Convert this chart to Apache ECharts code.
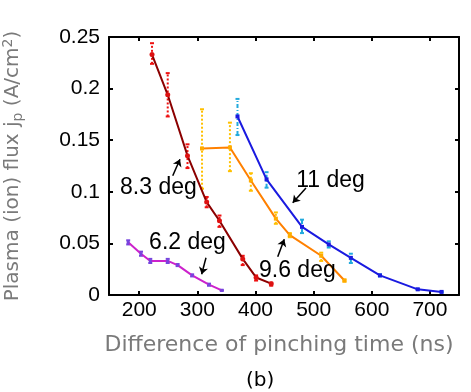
<!DOCTYPE html>
<html><head><meta charset="utf-8">
<script src="https://cdn.jsdelivr.net/npm/echarts@6/dist/echarts.min.js"></script>
<style>html,body{margin:0;padding:0;background:#fff}#c{width:471px;height:392px}</style>
</head><body><div id="c"></div>
<script>
// Data
const xTicks = [200, 300, 400, 500, 600, 700];
const deg83X = [222, 249, 283, 316, 338, 378, 401, 427];
const deg83Y = [0.233, 0.194, 0.135, 0.090, 0.072, 0.035, 0.017, 0.011];
const deg83Lo = [0.224, 0.173, 0.123, 0.085, 0.066, 0.029, 0.014, 0.009];
const deg83Hi = [0.244, 0.215, 0.146, 0.095, 0.077, 0.038, 0.019, 0.012];

const deg96X = [308, 356, 392, 435, 459, 513, 553];
const deg96Y = [0.142, 0.143, 0.111, 0.074, 0.058, 0.038, 0.014];
const deg96Lo = [0.103, 0.120, 0.101, 0.069, 0.056, 0.033, 0.013];
const deg96Hi = [0.180, 0.167, 0.118, 0.080, 0.060, 0.041, 0.015];

const deg11X = [369, 419, 480, 526, 564, 614, 679, 720];
const deg11Y = [0.173, 0.112, 0.066, 0.049, 0.036, 0.019, 0.0055, 0.003];
const deg11Lo = [0.155, 0.104, 0.060, 0.046, 0.031, 0.018, 0.005, 0.0025];
const deg11Hi = [0.190, 0.119, 0.073, 0.052, 0.040, 0.020, 0.006, 0.0035];

const deg62X = [181, 203, 219, 249, 266, 291, 320, 342];
const deg62Y = [0.051, 0.040, 0.033, 0.033, 0.029, 0.019, 0.010, 0.0045];
const deg62Lo = [0.049, 0.038, 0.031, 0.031, 0.028, 0.018, 0.009, 0.004];
const deg62Hi = [0.053, 0.042, 0.035, 0.035, 0.030, 0.020, 0.011, 0.005];

const labels = ['8.3 deg', '6.2 deg', '11 deg', '9.6 deg'];
const labelPos = [[233, 0.1037], [283, 0.0504], [529, 0.1105], [472, 0.0233]];
const arrows = [
  [[257.6, 0.1156], [270.1, 0.1315]],
  [[314.8, 0.0361], [307.4, 0.0201]],
  [[486.8, 0.1037], [464, 0.0894]],
  [[438.2, 0.0371], [449.5, 0.054]]
];

const FONT = 'Liberation Sans, Arial, Helvetica, sans-serif';
const WFONT = 'DejaVu Sans, sans-serif';
const GRAY = '#7a7a7a';

function zip(a, b) { return a.map((v, i) => [v, b[i]]); }
function errData(x, lo, hi) { return x.map((v, i) => [v, lo[i], hi[i]]); }

function errSeries(x, lo, hi, color, dash) {
  return {
    type: 'custom', z: 1,
    data: errData(x, lo, hi),
    renderItem: function (params, api) {
      const p1 = api.coord([api.value(0), api.value(1)]);
      const p2 = api.coord([api.value(0), api.value(2)]);
      const w = 2;
      const st = { stroke: color, lineWidth: 2, lineDash: dash };
      const st2 = { stroke: color, lineWidth: 2 };
      return {
        type: 'group', children: [
          { type: 'line', shape: { x1: p1[0], y1: p1[1], x2: p2[0], y2: p2[1] }, style: st },
          { type: 'line', shape: { x1: p1[0] - w, y1: p1[1], x2: p1[0] + w, y2: p1[1] }, style: st2 },
          { type: 'line', shape: { x1: p2[0] - w, y1: p2[1], x2: p2[0] + w, y2: p2[1] }, style: st2 }
        ]
      };
    }
  };
}

function lineSeries(x, y, color, mcolor, sym, size) {
  return {
    type: 'line', z: 3, data: zip(x, y),
    lineStyle: { color: color, width: 2 },
    itemStyle: { color: mcolor },
    symbol: sym, symbolSize: size, showSymbol: true,
    animation: false
  };
}

const chart = echarts.init(document.getElementById('c'), null, { renderer: 'canvas' });

const arrowLines = arrows.map(a => [
  { coord: a[0], symbol: 'none' },
  { coord: a[1], symbol: 'arrow' }
]);

const option = {
  animation: false,
  backgroundColor: '#fff',
  grid: { left: 109, right: 12, top: 37, bottom: 97, show: false, containLabel: false, outerBoundsMode: 'none' },
  xAxis: [{
    type: 'value', min: 148, max: 750, position: 'bottom',
    axisLine: { show: true, onZero: false, lineStyle: { color: '#000', width: 2 } },
    axisTick: { show: true, inside: true, length: 4, customValues: xTicks, lineStyle: { color: '#000', width: 2 } },
    axisLabel: { customValues: xTicks, color: '#000', fontSize: 21, fontFamily: FONT, margin: 5 },
    splitLine: { show: false },
    name: 'Difference of pinching time (ns)', nameLocation: 'middle', nameGap: 39,
    nameTextStyle: { color: GRAY, fontSize: 22, fontFamily: WFONT, padding: [0, 0, 0, -10] }
  }, {
    type: 'value', min: 148, max: 750, position: 'top',
    axisLine: { show: true, onZero: false, lineStyle: { color: '#000', width: 2 } },
    axisTick: { show: true, inside: true, length: 4, customValues: xTicks, lineStyle: { color: '#000', width: 2 } },
    axisLabel: { show: false },
    splitLine: { show: false }
  }],
  yAxis: [{
    type: 'value', min: 0, max: 0.25, interval: 0.05, position: 'left',
    axisLine: { show: true, onZero: false, lineStyle: { color: '#000', width: 2 } },
    axisTick: { show: true, inside: true, length: 4, lineStyle: { color: '#000', width: 2 } },
    axisLabel: { color: '#000', fontSize: 21, fontFamily: FONT, margin: 9 },
    splitLine: { show: false },
    name: '{a|Plasma (ion) flux j}{s|p}{a| (A/cm}{u|2}{a|)}', nameLocation: 'middle', nameGap: 84, nameRotate: 90,
    nameTextStyle: {
      rich: {
        a: { color: GRAY, fontSize: 20, fontFamily: WFONT },
        s: { color: GRAY, fontSize: 14, fontFamily: WFONT, padding: [10, 0, 0, 0] },
        u: { color: GRAY, fontSize: 14, fontFamily: WFONT, padding: [0, 0, 10, 0] }
      }
    }
  }, {
    type: 'value', min: 0, max: 0.25, interval: 0.05, position: 'right',
    axisLine: { show: true, onZero: false, lineStyle: { color: '#000', width: 2 } },
    axisTick: { show: true, inside: true, length: 4, lineStyle: { color: '#000', width: 2 } },
    axisLabel: { show: false },
    splitLine: { show: false }
  }],
  graphic: [{
    type: 'text', left: 246, top: 371,
    style: { text: '(b)', fontSize: 20, fontFamily: WFONT, fill: '#000' }
  }],
  series: [
    errSeries(deg83X, deg83Lo, deg83Hi, '#ee1111', [2, 2]),
    errSeries(deg96X, deg96Lo, deg96Hi, '#ffc000', [2, 2]),
    errSeries(deg11X, deg11Lo, deg11Hi, '#22aadd', [4, 2, 1, 2]),
    errSeries(deg62X, deg62Lo, deg62Hi, '#7744dd', [2, 2]),
    lineSeries(deg83X, deg83Y, '#8b0000', '#dd1111', 'circle', 5),
    lineSeries(deg96X, deg96Y, '#ff8000', '#ffaa00', 'rect', 4),
    lineSeries(deg11X, deg11Y, '#1a1ae0', '#1a1ae0', 'rect', 4),
    lineSeries(deg62X, deg62Y, '#cc22cc', '#7744dd', 'rect', 3),
    {
      type: 'scatter', z: 5, silent: true,
      data: labelPos.map((p, i) => ({ value: p, name: labels[i] })),
      symbolSize: 0,
      itemStyle: { opacity: 1, color: '#000' },
      label: { show: true, position: 'inside', formatter: '{b}', color: '#000', opacity: 1, textBorderWidth: 0, fontSize: 23, fontFamily: FONT },
      markLine: {
        silent: true, symbolSize: 7, animation: false,
        lineStyle: { color: '#000', width: 1.5, type: 'solid', opacity: 1 },
        label: { show: false },
        data: arrowLines
      }
    }
  ]
};
chart.setOption(option);
</script></body></html>
